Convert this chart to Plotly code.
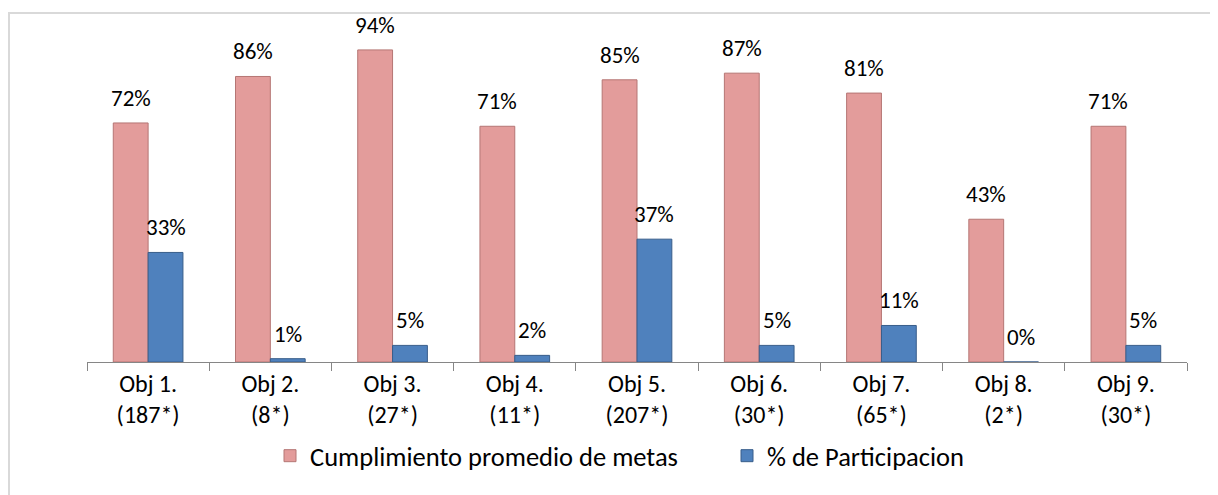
import plotly.graph_objects as go

categories = ["Obj 1.<br>(187*)", "Obj 2.<br>(8*)", "Obj 3.<br>(27*)", "Obj 4.<br>(11*)",
              "Obj 5.<br>(207*)", "Obj 6.<br>(30*)", "Obj 7.<br>(65*)", "Obj 8.<br>(2*)", "Obj 9.<br>(30*)"]
cumplimiento = [72, 86, 94, 71, 85, 87, 81, 43, 71]
participacion = [33, 1, 5, 2, 37, 5, 11, 0, 5]
series_names = ["Cumplimiento promedio de metas", "% de Participacion"]

FONT = "Carlito, Calibri, Lato, sans-serif"
PINK = "#e39c9b"
PINK_EDGE = "#b57674"
BLUE = "#4f81bd"
BLUE_EDGE = "#385d8a"

# page body has an 8px margin; figure is sized to fill the rest of the window
W, H = 1210, 487
L, R, T, B = 79, 31, 22, 133
pw, ph = W - L - R, H - T - B

fig = go.Figure()
fig.add_trace(go.Bar(x=categories, y=[v / 100 for v in cumplimiento], name=series_names[0],
                     marker=dict(color=PINK, line=dict(color=PINK_EDGE, width=1))))
fig.add_trace(go.Bar(x=categories, y=[v / 100 for v in participacion], name=series_names[1],
                     marker=dict(color=BLUE, line=dict(color=BLUE_EDGE, width=1))))

bargap = 0.43
bar_px = pw / len(categories) * (1 - bargap) / 2
annotations = []
for i, c in enumerate(categories):
    for vals, sh in ((cumplimiento, -bar_px / 2), (participacion, bar_px / 2)):
        annotations.append(dict(x=c, y=vals[i] / 100, xref="x", yref="y", text=f"{vals[i]}%",
                                showarrow=False, xshift=sh, yshift=25, yanchor="middle",
                                font=dict(family=FONT, size=23, color="#000000")))

fig.update_layout(
    width=W, height=H,
    margin=dict(l=L, r=R, t=T, b=B),
    paper_bgcolor="white", plot_bgcolor="white",
    barmode="group", bargap=bargap, bargroupgap=0,
    font=dict(family=FONT, size=24, color="#000000"),
    showlegend=True,
    legend=dict(orientation="h", x=(270 - 8 - L) / pw, xanchor="left", y=-0.283, yanchor="middle",
                entrywidth=412, entrywidthmode="pixels",
                font=dict(family=FONT, size=26.5), bgcolor="rgba(0,0,0,0)", traceorder="normal"),
    annotations=annotations,
    shapes=[dict(type="rect", xref="paper", yref="paper",
                 x0=(1 - L) / pw, x1=(W + 20 - L) / pw,
                 y0=-(B + 20) / ph, y1=(H - B - 5) / ph,
                 line=dict(color="#d9d9d9", width=2), layer="below")],
)
fig.update_xaxes(showline=True, linecolor="#868686", linewidth=1, ticks="outside", tickson="boundaries",
                 ticklen=8, tickcolor="#868686", showgrid=False, tickfont=dict(family=FONT, size=24))
fig.update_yaxes(range=[0, 1], visible=False, showgrid=False)

fig.write_html("out.html")
